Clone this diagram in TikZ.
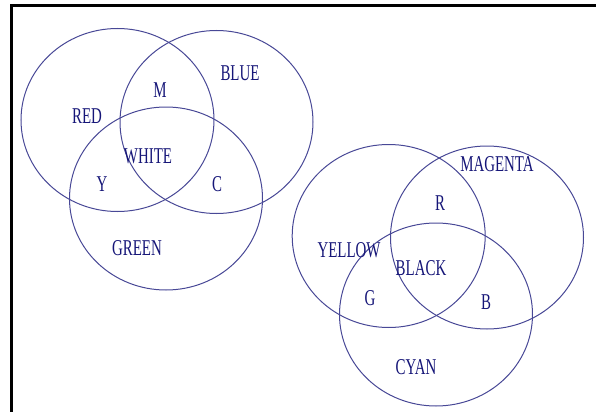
\documentclass[tikz,border=0pt]{standalone}
\usepackage{fontspec}
\usepackage{xcolor}
\usepackage{tikz}
\usetikzlibrary{positioning}
\newfontfamily\vennfont[FakeStretch=0.66]{Liberation Serif}
\definecolor{ringBlue}{RGB}{72,72,150}
\definecolor{textNavy}{RGB}{22,22,120}
\tikzset{
  ring/.style={draw=ringBlue, line width=0.5pt},
  frameLine/.style={draw=black, line width=1.5pt},
  vlabel/.style={inner sep=0pt, text=textNavy, font=\vennfont\fontsize{11.3}{12}\selectfont},
}
\begin{document}
\begin{tikzpicture}[x=0.5pt, y=-0.5pt]
    \useasboundingbox (0,0) rectangle (596,412);
    %% Frame (top and left edges)
    \coordinate (fBL) at (11.5,412);
    \coordinate (fTL) at (11.5,5.5);
    \coordinate (fTR) at (596,5.5);
    \draw[frameLine] (fBL)--(fTL)--(fTR);
    %% Additive rings
    \foreach \x/\y in {117.5/120, 216.5/122, 166/198.5}{
      \draw[ring] (\x,\y) ellipse [x radius=96.5, y radius=91.5];
    }
    %% Subtractive rings
    \foreach \x/\y in {388.7/236, 487/237.5, 436/314.5}{
      \draw[ring] (\x,\y) ellipse [x radius=96.5, y radius=91.5];
    }
    %% Labels
    \foreach \n/\x/\y/\lbl in {red/87/116/RED, blue/240/73/BLUE, m/160/90/M,
                               white/148/156/WHITE, y/102/184/Y, c/217/184/C,
                               green/137/248/GREEN,
                               magenta/497/164/MAGENTA, r/440/203/R,
                               yellow/349/250/YELLOW, black/421/268/BLACK,
                               g/370/298/G, b/486/302/B, cyan/416/367/CYAN}{
      \node[vlabel] (\n) at (\x,\y) {\lbl};
    }
\end{tikzpicture}
\end{document}
